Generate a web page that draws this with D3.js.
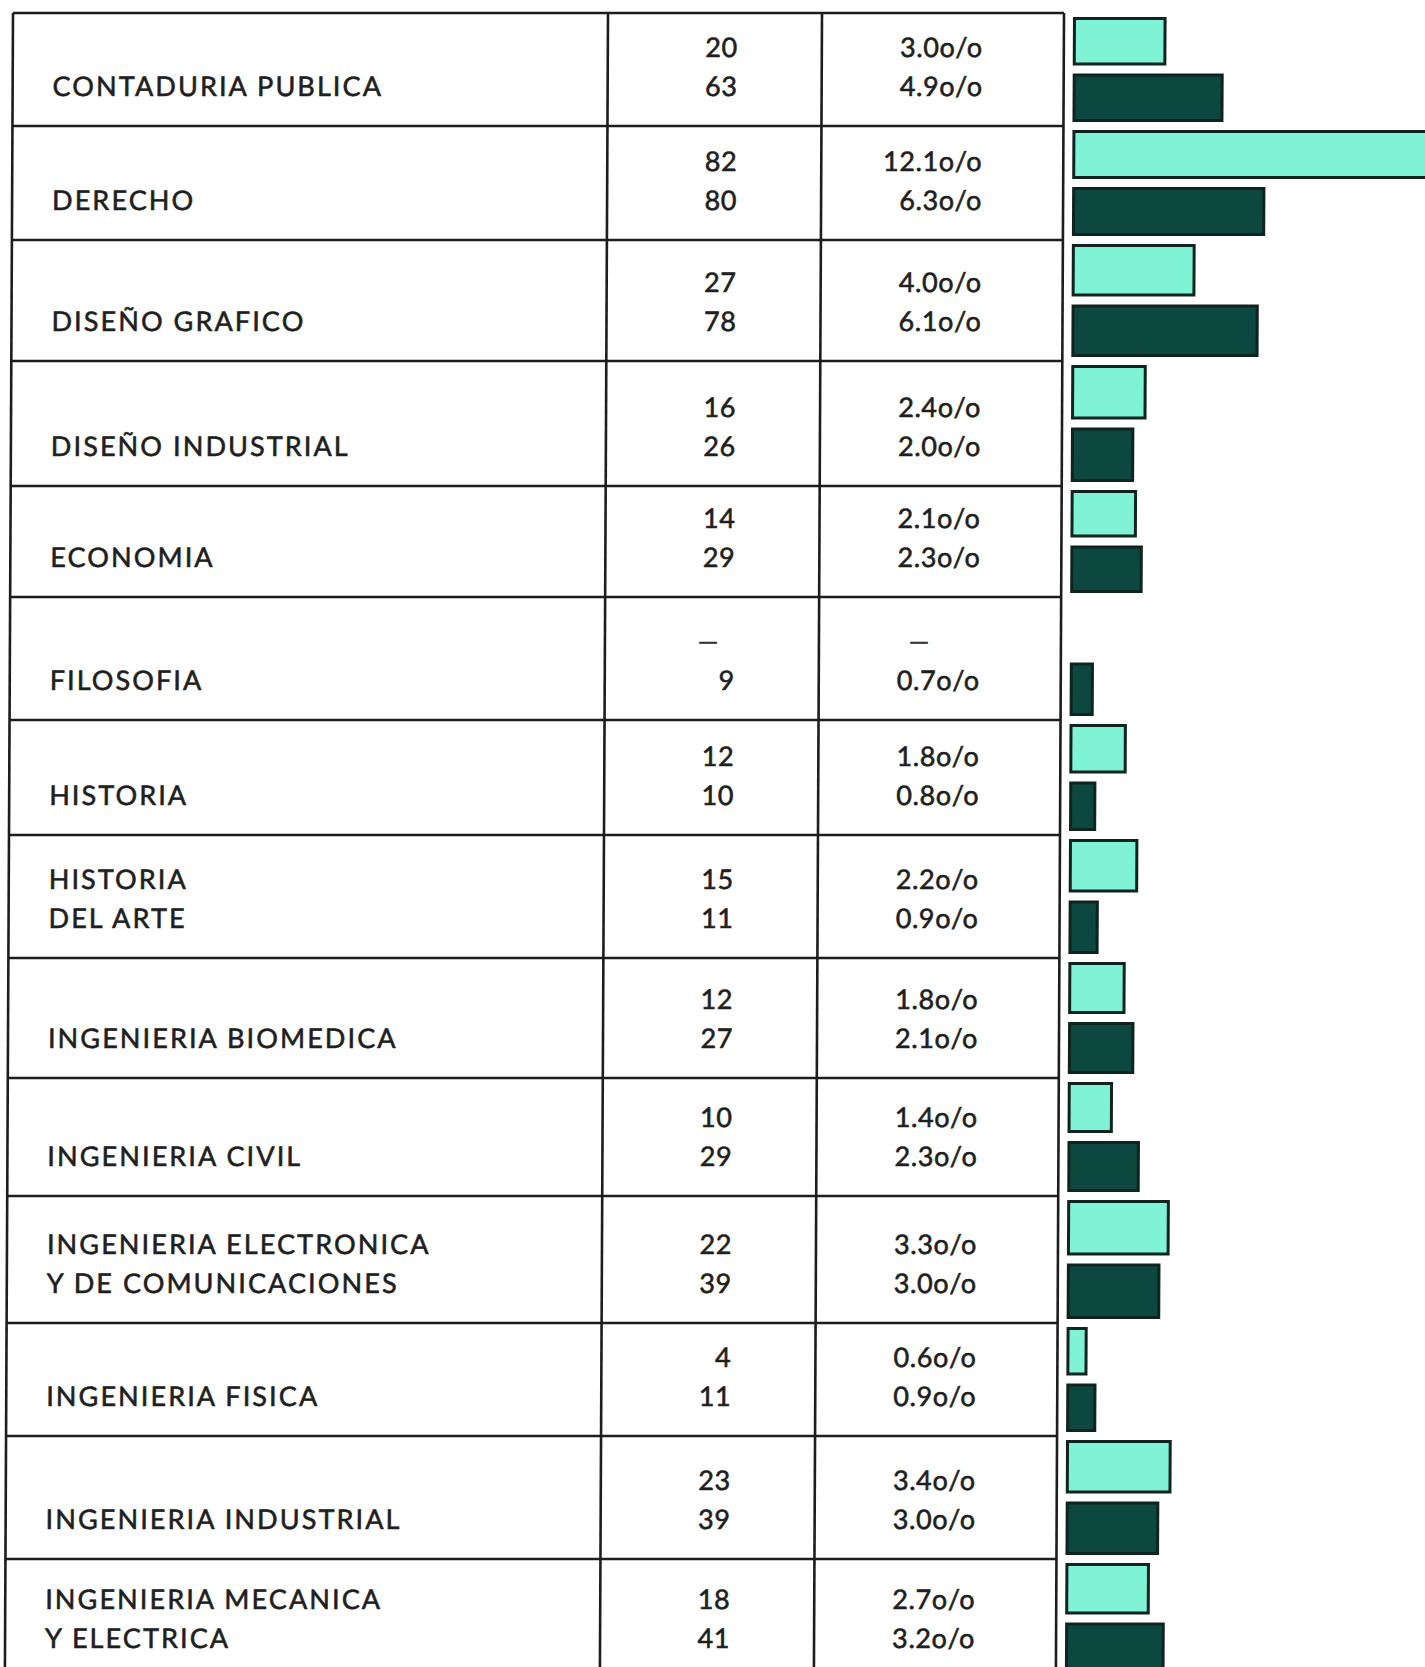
<!DOCTYPE html>
<html>
<head>
<meta charset="utf-8">
<script src="https://cdn.jsdelivr.net/npm/d3@7"></script>
<style>
  html, body { margin: 0; padding: 0; background: #ffffff; }
  svg { display: block; }
</style>
</head>
<body>
<script>
// Carreras: two enrolment groups per row, count and share of total.
const categories = [
  "CONTADURIA PUBLICA",
  "DERECHO",
  "DISEÑO GRAFICO",
  "DISEÑO INDUSTRIAL",
  "ECONOMIA",
  "FILOSOFIA",
  "HISTORIA",
  "HISTORIA\nDEL ARTE",
  "INGENIERIA BIOMEDICA",
  "INGENIERIA CIVIL",
  "INGENIERIA ELECTRONICA\nY DE COMUNICACIONES",
  "INGENIERIA FISICA",
  "INGENIERIA INDUSTRIAL",
  "INGENIERIA MECANICA\nY ELECTRICA"
];
// first group (light bars)
const countsA = [20, 82, 27, 16, 14, null, 12, 15, 12, 10, 22, 4, 23, 18];
const pctA    = [3.0, 12.1, 4.0, 2.4, 2.1, null, 1.8, 2.2, 1.8, 1.4, 3.3, 0.6, 3.4, 2.7];
// second group (dark bars)
const countsB = [63, 80, 78, 26, 29, 9, 10, 11, 27, 29, 39, 11, 39, 41];
const pctB    = [4.9, 6.3, 6.1, 2.0, 2.3, 0.7, 0.8, 0.9, 2.1, 2.3, 3.0, 0.9, 3.0, 3.2];
const missingMark = "—";

// ---- layout ----
const W = 1425, H = 1667;
const rowEdges = [13, 126, 240, 361, 486, 597, 720, 835, 958, 1078, 1196, 1323, 1436, 1559, 1678];
const col = { left: 13, mid1: 608, mid2: 822, right: 1064 };
const labelX = 53, countRight = 738, pctRight = 983, barStart = 1073;
const lineGap = 39, lastLineUp = 30;

const rowTop = d3.scaleOrdinal(categories, rowEdges.slice(0, -1));
const rowBottom = d3.scaleOrdinal(categories, rowEdges.slice(1));
const xBar = d3.scaleLinear().domain([0, 10]).range([0, 302]);
const fmtPct = v => d3.format(".1f")(v) + "o/o";

const rows = categories.map((c, i) => ({
  cat: c, lines: c.split("\n"),
  a: countsA[i], pa: pctA[i], b: countsB[i], pb: pctB[i]
}));

const svg = d3.select("body").append("svg")
  .attr("width", W).attr("height", H)
  .style("font-family", "Lato, 'Open Sans', sans-serif");

// the printed sheet leans slightly to the left going down
const g = svg.append("g")
  .attr("transform", "translate(0,14) skewX(-0.28) translate(0,-14)");

// ---- table grid ----
const ink = "#1d1d1d";
const grid = g.append("g").attr("stroke", ink).attr("stroke-width", 2.6).attr("fill", "none");
grid.selectAll("line.h").data(rowEdges).join("line")
  .attr("class", "h")
  .attr("x1", col.left).attr("x2", col.right)
  .attr("y1", d => d).attr("y2", d => d);
grid.selectAll("line.v").data([col.left, col.mid1, col.mid2, col.right]).join("line")
  .attr("class", "v")
  .attr("x1", d => d).attr("x2", d => d)
  .attr("y1", rowEdges[0]).attr("y2", rowEdges[rowEdges.length - 1]);

// ---- text ----
const fontSize = 27;
const textInk = "#1f1f1f";
const txt = g.append("g")
  .attr("fill", textInk)
  .attr("stroke", textInk).attr("stroke-width", 0.6)
  .style("font-size", fontSize + "px");

const line2 = d => rowBottom(d.cat) - lastLineUp;
const line1 = d => line2(d) - lineGap;

// category labels: single-line labels sit on the lower line
txt.selectAll("text.label").data(rows).join("text")
  .attr("class", "label")
  .attr("x", labelX)
  .style("letter-spacing", "2.1px")
  .each(function (d) {
    const t = d3.select(this);
    const ys = d.lines.length === 2 ? [line1(d), line2(d)] : [line2(d)];
    d.lines.forEach((s, k) => {
      t.append("tspan").attr("x", labelX).attr("y", ys[k]).text(s);
    });
  });

// counts and shares
const cells = [];
rows.forEach(d => {
  cells.push({ x: countRight, y: line1(d), s: d.a == null ? null : String(d.a), kind: "n" });
  cells.push({ x: countRight, y: line2(d), s: String(d.b), kind: "n" });
  cells.push({ x: pctRight, y: line1(d), s: d.pa == null ? null : fmtPct(d.pa), kind: "p" });
  cells.push({ x: pctRight, y: line2(d), s: fmtPct(d.pb), kind: "p" });
});
txt.selectAll("text.val").data(cells.filter(c => c.s != null)).join("text")
  .attr("class", "val")
  .attr("x", c => c.x).attr("y", c => c.y)
  .attr("text-anchor", "end")
  .style("letter-spacing", "0.6px")
  .text(c => c.s);
// empty cells carry a dash
txt.selectAll("text.miss").data(cells.filter(c => c.s == null)).join("text")
  .attr("class", "miss")
  .attr("x", c => c.kind === "n" ? c.x - 27 : c.x - 61)
  .attr("y", c => c.y - 3)
  .attr("text-anchor", "middle")
  .style("font-family", "'DejaVu Sans', sans-serif")
  .style("font-size", "19px")
  .text(missingMark);

// ---- bars ----
const sw = 3;
const bars = [];
rows.forEach(d => {
  const top = rowTop(d.cat), bot = rowBottom(d.cat);
  const h = (bot - top - 16) / 2;
  if (d.pa != null) bars.push({ p: d.pa, y: top + 4, h, fill: "#80f3d7" });
  if (d.pb != null) bars.push({ p: d.pb, y: bot - 4 - h, h, fill: "#0c4840" });
});
g.append("g").selectAll("rect").data(bars).join("rect")
  .attr("x", barStart + sw / 2)
  .attr("y", b => b.y + sw / 2)
  .attr("width", b => xBar(b.p))
  .attr("height", b => b.h - sw)
  .attr("fill", b => b.fill)
  .attr("stroke", "#10241f")
  .attr("stroke-width", sw);
</script>
</body>
</html>
